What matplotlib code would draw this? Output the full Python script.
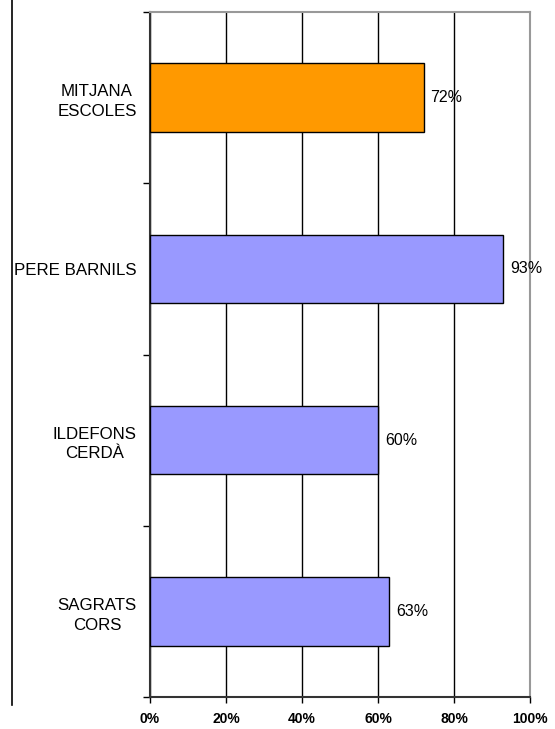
import numpy as np
import matplotlib
matplotlib.use("Agg")
import matplotlib.pyplot as plt
from matplotlib.lines import Line2D

# data (bottom to top)
categories = ["SAGRATS\nCORS", "ILDEFONS\nCERDÀ", "PERE BARNILS", "MITJANA\nESCOLES"]
values = [63, 60, 93, 72]
colors = ["#9999FF", "#9999FF", "#9999FF", "#FF9900"]
xticks = [0, 20, 40, 60, 80, 100]

plt.rcParams['font.family'] = ['Liberation Sans', 'DejaVu Sans']

fig = plt.figure(figsize=(5.55, 7.29), dpi=100)
ax = fig.add_axes([150/555, 1 - 697/729, 380/555, 685/729])

y = np.arange(len(categories))
ax.barh(y, values, height=0.4, color=colors, edgecolor='black', linewidth=1.0, zorder=3)

for yi, v in zip(y, values):
    ax.text(v + 1.8, yi, f"{v}%", va='center', ha='left', fontsize=11.5, zorder=4)

ax.set_xlim(0, 100)
ax.set_ylim(-0.5, len(categories) - 0.5)

ax.set_xticks(xticks)
ax.set_xticklabels([f"{t}%" for t in xticks], fontweight='bold', fontsize=10)
ax.tick_params(axis='x', direction='out', length=4, width=1, pad=7)

# category labels at centers, tick marks at boundaries
ax.set_yticks(y)
ax.set_yticklabels(categories, fontsize=12.2, multialignment='center', linespacing=1.4)
ax.tick_params(axis='y', which='major', length=0, pad=9.5)
ax.set_yticks(np.arange(-0.5, len(categories)), minor=True)
ax.tick_params(axis='y', which='minor', direction='out', length=5, width=1)

ax.xaxis.grid(True, color='black', linewidth=1.0, zorder=0)
ax.set_axisbelow(True)

for s in ['left', 'bottom']:
    ax.spines[s].set_color('#333333')
    ax.spines[s].set_linewidth(1.5)
for s in ['top', 'right']:
    ax.spines[s].set_color('#999999')
    ax.spines[s].set_linewidth(1.5)

# outer left border line
fig.add_artist(Line2D([12/555, 12/555], [1 - 705/729, 1], color='black', linewidth=1.2))

fig.savefig("out.png", dpi=100)
